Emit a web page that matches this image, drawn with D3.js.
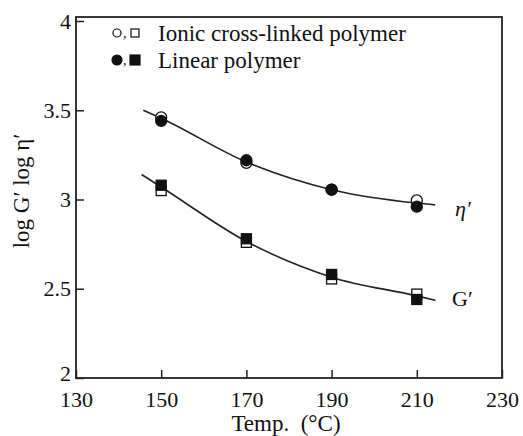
<!DOCTYPE html>
<html><head><meta charset="utf-8">
<script src="https://cdn.jsdelivr.net/npm/d3@7"></script>
<style>body{margin:0;background:#fff}text{font-family:"Liberation Serif","DejaVu Serif",serif;fill:#111}</style>
</head><body><svg id="c" width="523" height="436"></svg>
<script>
const temps = [150, 170, 190, 210];
const etaIonic = [3.46, 3.205, 3.055, 2.995];
const etaLinear = [3.44, 3.22, 3.055, 2.96];
const gIonic = [3.05, 2.76, 2.555, 2.47];
const gLinear = [3.08, 2.78, 2.58, 2.44];
const etaCurveT = [145.8, 150, 170, 190, 210, 214.3];
const etaCurveV = [3.50, 3.455, 3.21, 3.055, 2.98, 2.97];
const gCurveT = [145.4, 150, 170, 190, 210, 214.4];
const gCurveV = [3.14, 3.07, 2.765, 2.565, 2.46, 2.435];
const xTicks = [130, 150, 170, 190, 210, 230];
const yTicks = [2, 2.5, 3, 3.5, 4];
const yTickLabels = ["2", "2.5", "3", "3.5", "4"];
const legendLabels = ["Ionic cross-linked polymer", "Linear polymer"];

const svg = d3.select("#c");
const L = 76, R = 502, B = 378, T = 17;
const x = d3.scaleLinear().domain([130, 230]).range([L, R]);
const y = d3.scaleLinear().domain([2, 4]).range([B, 21]);

// frame
svg.append("rect").attr("x", L).attr("y", T).attr("width", R - L).attr("height", B - T)
  .attr("fill", "none").attr("stroke", "#222").attr("stroke-width", 1.8);

// x axis ticks (inward)
const gx = svg.append("g").attr("transform", `translate(0,${B})`)
  .call(d3.axisBottom(x).tickValues(xTicks).tickSize(-8).tickPadding(13).tickFormat(d3.format("d")));
gx.select(".domain").remove();
gx.selectAll("line").attr("stroke", "#222").attr("stroke-width", 1.5);
gx.selectAll("text").attr("font-size", 22).attr("font-family", "Liberation Serif").attr("fill", "#111");

const gy = svg.append("g").attr("transform", `translate(${L},0)`)
  .call(d3.axisLeft(y).tickValues(yTicks).tickSize(-8).tickPadding(5).tickFormat((d, i) => yTickLabels[i]));
gy.select(".domain").remove();
gy.selectAll("line").attr("stroke", "#222").attr("stroke-width", 1.5);
gy.selectAll("text").attr("font-size", 22).attr("font-family", "Liberation Serif").attr("fill", "#111");
gy.selectAll(".tick").filter(d => d === 2).select("text").attr("dy", "0.1em");

// axis titles
svg.append("text").attr("x", 286).attr("y", 431).attr("text-anchor", "middle")
  .attr("font-size", 23).text("Temp.\u2002(°C)");
svg.append("text").attr("transform", `translate(29,191) rotate(-90)`).attr("text-anchor", "middle")
  .attr("font-size", 23).text("log G′ log η′");

// curves
const line = d3.line().x(d => x(d[0])).y(d => y(d[1])).curve(d3.curveMonotoneX);
[[etaCurveT, etaCurveV], [gCurveT, gCurveV]].forEach(([t, v]) => {
  svg.append("path").attr("d", line(t.map((d, i) => [d, v[i]])))
    .attr("fill", "none").attr("stroke", "#222").attr("stroke-width", 1.6);
});

// markers
function circle(cx, cy, filled) {
  svg.append("circle").attr("cx", cx).attr("cy", cy).attr("r", 5.5)
    .attr("fill", filled ? "#111" : "#fff").attr("stroke", "#111").attr("stroke-width", 1.3);
}
function square(cx, cy, filled) {
  svg.append("rect").attr("x", cx - 5).attr("y", cy - 5).attr("width", 10).attr("height", 10)
    .attr("fill", filled ? "#111" : "#fff").attr("stroke", "#111").attr("stroke-width", 1.3);
}
temps.forEach((t, i) => {
  circle(x(t), y(etaIonic[i]), false);
  circle(x(t), y(etaLinear[i]), true);
  square(x(t), y(gIonic[i]), false);
  square(x(t), y(gLinear[i]), true);
});

// curve labels
svg.append("text").attr("x", 455).attr("y", 216).attr("font-size", 22).attr("font-style", "italic").text("η′");
svg.append("text").attr("x", 452).attr("y", 306).attr("font-size", 22).text("G′");

// legend
const ly = [33, 60];
[false, true].forEach((f, i) => {
  svg.append("circle").attr("cx", 117).attr("cy", ly[i]).attr("r", f ? 5 : 4)
    .attr("fill", f ? "#111" : "#fff").attr("stroke", "#111").attr("stroke-width", 1.2);
  svg.append("text").attr("x", 123).attr("y", ly[i] + 5).attr("font-size", 14).text(",");
  const s = f ? 10 : 8;
  svg.append("rect").attr("x", 135 - s / 2).attr("y", ly[i] - s / 2).attr("width", s).attr("height", s)
    .attr("fill", f ? "#111" : "#fff").attr("stroke", "#111").attr("stroke-width", 1.2);
  svg.append("text").attr("x", 158).attr("y", ly[i] + 8).attr("font-size", 23).text(legendLabels[i]);
});
</script></body></html>
